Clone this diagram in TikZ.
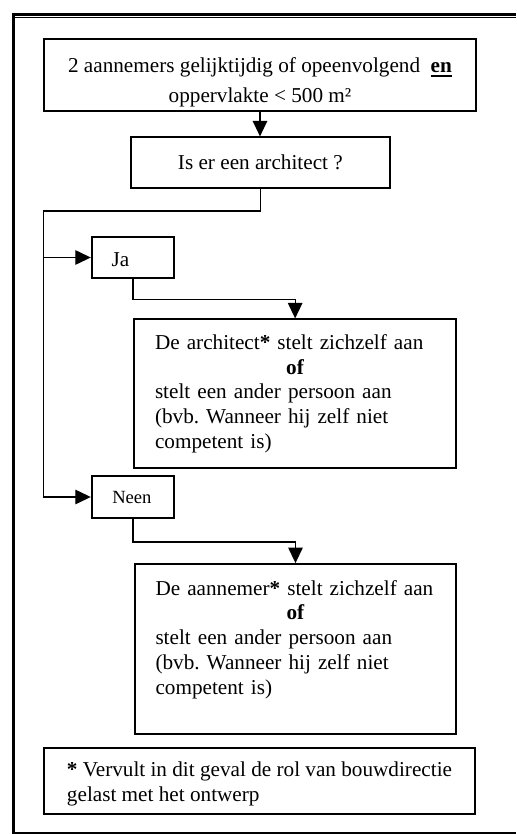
\documentclass[tikz,border=0pt]{standalone}
\usepackage{fontspec}
\setmainfont{Liberation Serif}
\usetikzlibrary{arrows.meta}
\frenchspacing
\newcommand{\tekstfont}{\fontsize{10.6}{12.35}\selectfont}
\newcommand{\onderstreep}[1]{\setbox0\hbox{#1}\rlap{\rule[-2.1pt]{\wd0}{0.9pt}}\box0}
\tikzstyle{every node}=[font=\tekstfont]
\tikzstyle{blok}=[rectangle, draw, line width=0.9pt, inner sep=0pt]
\tikzstyle{lijn}=[line width=0.65pt]
\tikzstyle{pijl}=[lijn, -{Triangle[length=7.75pt,width=7.25pt]}]
\tikzstyle{rand}=[line width=1.35pt]

\begin{document}
\begin{tikzpicture}[x=0.5pt,y=-0.5pt]
    \useasboundingbox (0,0) rectangle (516,835);
    \draw[rand] (12.5,14.3) -- (516,14.3);
    \draw[line width=0.5pt] (15,17.1) -- (516,17.1);
    \draw[rand, line width=1.65pt] (13.3,12.7) -- (13.3,834.3);
    \draw[rand] (12.5,833) -- (516,833);

    \node[blok, align=center, minimum width=216pt, minimum height=35.7pt] (start) at (260,75)
	{\rule{0pt}{14.65pt}2 aannemers gelijktijdig of opeenvolgend \ \onderstreep{\textbf{en}}\\[2.3pt]
	oppervlakte < 500 m²};
    \node[blok, minimum width=129.65pt, minimum height=25.2pt] (vraag) at (260.35,162.5)
	{Is er een architect ?};
    \node[blok, inner xsep=10pt, text width=21.3pt, align=left, minimum height=20.8pt] (ja) at (133,257.5)
	{\rule{0pt}{9.2pt}Ja};
    \node[blok, inner xsep=10.35pt, text width=140.15pt, align=left, minimum height=74.2pt] (archi) at (295.15,393.5)
	{De architect\textbf{*} stelt zichzelf aan\\ \makebox[140.15pt]{\textbf{of}}\\
	stelt een ander persoon aan\\ (bvb. Wanneer hij zelf niet\\ competent is)};
    \node[blok, font=\fontsize{9.3}{11}\selectfont, inner xsep=10.3pt, text width=20.7pt, align=left, minimum height=21.3pt]
	(neen) at (133,497) {Neen};
    \node[blok, inner xsep=10.25pt, text width=140pt, align=left, minimum height=85pt] (aannemer) at (295.5,649)
	{De aannemer\textbf{*} stelt zichzelf aan\\ \makebox[140pt]{\textbf{of}}\\
	stelt een ander persoon aan\\ (bvb. Wanneer hij zelf niet\\ competent is)\rule[-11.85pt]{0pt}{11.85pt}};
    \node[blok, align=left, minimum width=215.5pt, minimum height=33.15pt] (noot) at (259.5,781)
	{\rule{0pt}{10.45pt}\textbf{*} Vervult in dit geval de rol van bouwdirectie\\ gelast met het ontwerp};

    \coordinate (splitsing) at (43.3,211);
    \draw[pijl] (start.south) -- (start.south |- vraag.north);
    \draw[lijn] (vraag.south) |- (splitsing) -- (splitsing |- neen.west);
    \draw[pijl] (splitsing |- ja.west) -- (ja.west);
    \draw[pijl] (splitsing |- neen.west) -- (neen.west);
    \draw[pijl] (ja.south) -- ++(0,20) -| (archi.north);
    \draw[pijl] (neen.south) -- ++(0,22.7) -| (aannemer.north);
\end{tikzpicture}
\end{document}
